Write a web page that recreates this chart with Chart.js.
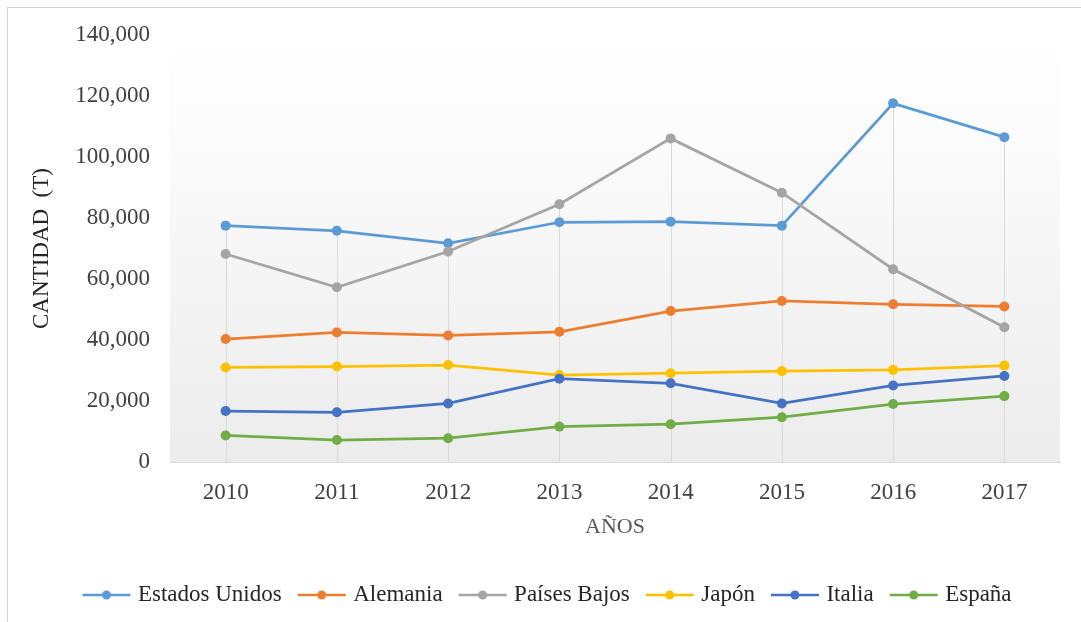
<!DOCTYPE html>
<html lang="es">
<head>
<meta charset="utf-8">
<title>Cantidad por país</title>
<script src="https://cdn.jsdelivr.net/npm/chart.js@4"></script>
<style>
    html, body { margin: 0; padding: 0; background: #fff; overflow: hidden; }
    #wrap { position: relative; width: 1081px; height: 622px; }
    #frame {
        position: absolute; left: 7px; top: 7px; right: -10px; bottom: -10px;
        border-top: 1px solid #d4d4d4; border-left: 1px solid #d4d4d4;
    }
    #chart { position: absolute; left: 0; top: 0; }
</style>
</head>
<body>
<div id="wrap">
    <div id="frame"></div>
    <canvas id="chart" width="1081" height="622"></canvas>
</div>
<script>
// ============================================
// Datos
// ============================================
const years = ['2010', '2011', '2012', '2013', '2014', '2015', '2016', '2017'];

const estadosUnidos = [77500, 75800, 71700, 78600, 78800, 77500, 117600, 106500];
const alemania      = [40300, 42500, 41500, 42700, 49500, 52800, 51700, 51000];
const paisesBajos   = [68200, 57300, 69000, 84500, 106100, 88300, 63200, 44200];
const japon         = [31000, 31300, 31800, 28500, 29100, 29800, 30200, 31600];
const italia        = [16700, 16300, 19200, 27300, 25800, 19200, 25100, 28200];
const espana        = [8700, 7200, 7800, 11600, 12400, 14700, 19000, 21600];

const seriesNames  = ['Estados Unidos', 'Alemania', 'Países Bajos', 'Japón', 'Italia', 'España'];
const seriesValues = [estadosUnidos, alemania, paisesBajos, japon, italia, espana];
const seriesColors = ['#5B9BD5', '#ED7D31', '#A5A5A5', '#FFC000', '#4472C4', '#70AD47'];

const yMax = 140000;
const yStep = 20000;

Chart.defaults.font.family = '"Liberation Serif", "Times New Roman", serif';

/**
 * Icono de la leyenda: línea con punto
 */
function legendIcon(color) {
    const c = document.createElement('canvas');
    c.width = 56;
    c.height = 14;
    const g = c.getContext('2d');
    g.strokeStyle = color;
    g.lineWidth = 2.5;
    g.beginPath();
    g.moveTo(4, 7);
    g.lineTo(52, 7);
    g.stroke();
    g.fillStyle = color;
    g.beginPath();
    g.arc(28, 7, 4.5, 0, Math.PI * 2);
    g.fill();
    return c;
}

// Fondo degradado del área de trazado
const plotBackground = {
    id: 'plotBackground',
    beforeDraw(chart) {
        const { ctx, chartArea: a } = chart;
        const grad = ctx.createLinearGradient(0, a.top, 0, a.bottom);
        grad.addColorStop(0, '#ffffff');
        grad.addColorStop(0.2, '#fcfcfc');
        grad.addColorStop(1, '#ececec');
        ctx.save();
        ctx.fillStyle = grad;
        ctx.fillRect(a.left, a.top, a.right - a.left, a.bottom - a.top);
        ctx.restore();
    }
};

// Líneas de unión: desde el valor máximo de cada año hasta el eje
const dropLines = {
    id: 'dropLines',
    beforeDatasetsDraw(chart) {
        const { ctx, chartArea: a, scales: { x, y } } = chart;
        ctx.save();
        ctx.strokeStyle = '#dadada';
        ctx.lineWidth = 1;
        years.forEach((_, i) => {
            const top = Math.max(...seriesValues.map(s => s[i]));
            const px = Math.round(x.getPixelForValue(i)) + 0.5;
            ctx.beginPath();
            ctx.moveTo(px, y.getPixelForValue(top));
            ctx.lineTo(px, a.bottom);
            ctx.stroke();
        });
        ctx.restore();
    }
};

const datasets = seriesNames.map((name, i) => ({
    label: name,
    data: seriesValues[i],
    borderColor: seriesColors[i],
    backgroundColor: seriesColors[i],
    pointBackgroundColor: seriesColors[i],
    pointBorderColor: seriesColors[i],
    borderWidth: 2.75,
    pointRadius: 5,
    pointBorderWidth: 0,
    tension: 0,
    fill: false,
    order: seriesNames.length - i // las últimas series quedan encima
}));

new Chart(document.getElementById('chart'), {
    type: 'line',
    data: { labels: years, datasets },
    options: {
        responsive: false,
        animation: false,
        events: [],
        layout: {
            padding: { left: 38, right: 21, top: 35, bottom: 5.5 }
        },
        scales: {
            x: {
                offset: true,
                grid: { display: false, drawTicks: false },
                border: { display: true, color: '#d9d9d9', width: 1 },
                ticks: {
                    color: '#404040',
                    font: { size: 23 },
                    padding: 17,
                    maxRotation: 0
                },
                title: {
                    display: true,
                    text: 'AÑOS',
                    color: '#595959',
                    font: { size: 22 },
                    padding: { top: 0, bottom: 23 }
                },
                afterFit(scale) {
                    scale.height = 101.5;
                }
            },
            y: {
                min: 0,
                max: yMax,
                grid: { display: false, drawTicks: false },
                border: { display: false },
                ticks: {
                    stepSize: yStep,
                    color: '#404040',
                    font: { size: 23 },
                    padding: 20,
                    callback: v => v.toLocaleString('en-US')
                },
                title: {
                    display: true,
                    text: 'CANTIDAD  (T)',
                    color: '#262626',
                    font: { size: 23 },
                    padding: { top: -10, bottom: 0 }
                },
                afterFit(scale) {
                    scale.width = 132;
                }
            }
        },
        plugins: {
            tooltip: { enabled: false },
            legend: {
                position: 'bottom',
                labels: {
                    usePointStyle: true,
                    pointStyleWidth: 40,
                    padding: 20,
                    color: '#262626',
                    font: { size: 23 },
                    sort: (a, b) => a.datasetIndex - b.datasetIndex,
                    generateLabels(chart) {
                        const items = Chart.defaults.plugins.legend.labels.generateLabels(chart);
                        items.forEach(it => {
                            it.pointStyle = legendIcon(seriesColors[it.datasetIndex]);
                        });
                        return items;
                    }
                }
            }
        }
    },
    plugins: [plotBackground, dropLines]
});
</script>
</body>
</html>
